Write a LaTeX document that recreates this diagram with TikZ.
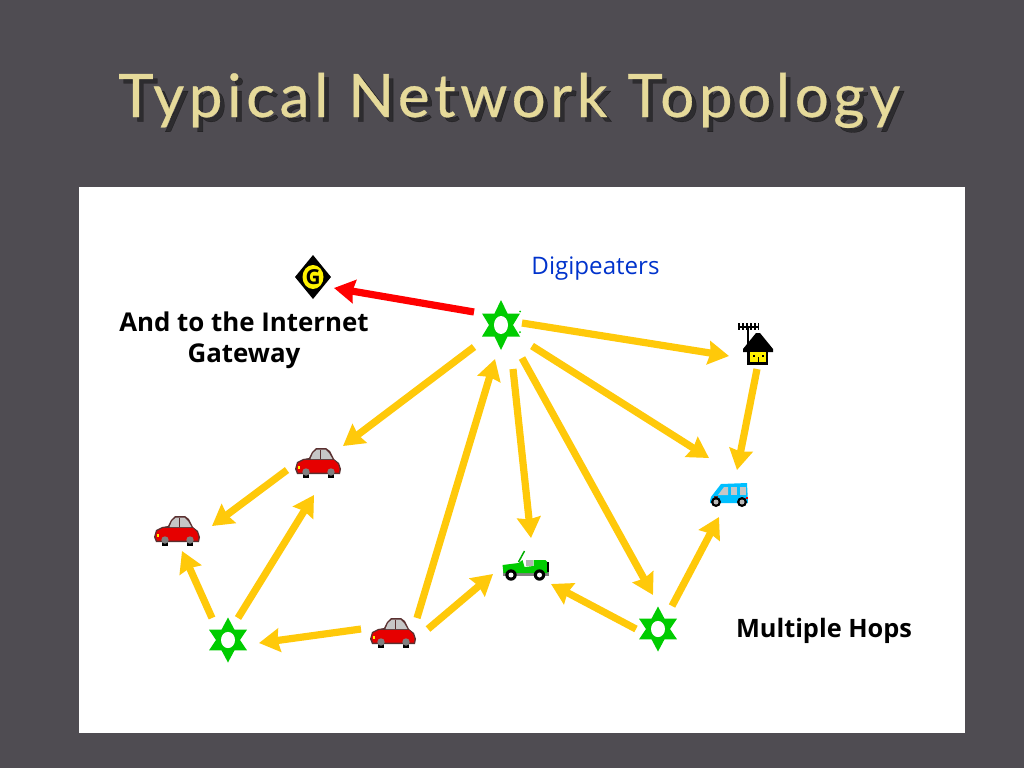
\documentclass[tikz,border=0pt]{standalone}
\usepackage{fontspec}
\usetikzlibrary{arrows.meta,calc}
\setmainfont{Open Sans}
\newfontfamily\titlefont[LetterSpace=7.8,FakeBold=0.5]{Lato}
\definecolor{slide}{HTML}{4F4C52}
\definecolor{flow}{HTML}{FFC90A}
\definecolor{relay}{HTML}{00CC00}
\definecolor{gold}{HTML}{E6DA9A}
\definecolor{carred}{HTML}{E60000}
\definecolor{carline}{HTML}{5A3030}
\definecolor{vanblue}{HTML}{00BFFF}
\tikzset{
  x=0.75pt,y=-0.75pt,
  iconbox/.style={inner sep=0pt,outer sep=0pt,minimum size=2pt},
  link/.style={line width=5.4pt,draw=flow,-{Stealth[length=15.5pt,width=17.5pt,inset=1.5pt]}},
  uplink/.style={line width=5.4pt,draw=red,-{Stealth[length=15.5pt,width=17.5pt,inset=1.5pt]}},
  label/.style={font=\fontsize{19.4pt}{23.2pt}\selectfont\bfseries,align=center,inner sep=0pt},
  titletext/.style={font=\fontsize{45pt}{50pt}\titlefont,inner sep=0pt,anchor=base west},
  pics/relayicon/.style={code={
    \fill[relay] (0,-25)--(6.5,-11.5)--(19,-11.5)--(12,0)--(19,11.5)--(6.5,11.5)--(0,25)--(-6.5,11.5)--(-19,11.5)--(-12,0)--(-19,-11.5)--(-6.5,-11.5)--cycle;
    \fill[white] (0,0) ellipse (7 and 9);
  }},
  pics/gateicon/.style={code={
    \fill[black] (0,-22)--(18,0)--(0,22)--(-18,0)--cycle;
    \fill[yellow] (0,0) ellipse (10.5 and 12);
    \node[inner sep=0pt,font=\fontsize{15.5pt}{15.5pt}\selectfont\bfseries] (gateletter) at (0,0) {G};
  }},
  pics/houseicon/.style={code={
    \draw[black,line width=1.7pt] (-19,-18)--(2,-18);
    \foreach \tx in {-18,-14,-10,-6,-2,1.5} \draw[black,line width=0.9pt] (\tx,-22)--(\tx,-15);
    \draw[black,line width=1.3pt] (-9,-18)--(-9,-1);
    \fill[black] (-1,-12)--(3,-12)--(16,4)--(16,7)--(-14,7)--(-14,4)--cycle;
    \fill[black] (-10,6) rectangle (11,20);
    \fill[yellow] (-7,7) rectangle (9,17);
    \fill[black] (-4,10) rectangle (-2,12);
    \fill[black] (5,10) rectangle (7,12);
    \fill[black] (0.5,12) rectangle (2,17);
  }},
  pics/vanicon/.style={code={
    \fill[vanblue] (-19,7)--(-18,3)--(-8,-10)--(18,-11)--(19,9)--(-19,9)--cycle;
    \fill[gray!45] (-11,1)--(-5,-7)--(-1,-7)--(-1,1)--cycle;
    \fill[gray!45] (2,-7) rectangle (8,1);
    \fill[gray!45] (11,-7) rectangle (17,1);
    \fill[carline] (-15,2) rectangle (-11,4);
    \fill[carred] (17,3) rectangle (19,5);
    \foreach \wx in {-13,13} {\fill[black] (\wx,8) circle (5); \fill[gray!55] (\wx,8) circle (2.5);}
  }},
  pics/caricon/.style={code={
    \fill[black] (-15,9) rectangle (-9,15);
    \fill[black] (10,9) rectangle (16,15);
    \fill[carline] (-23,6)--(-21,-1)--(-15,-4)--(-9,-5)--(-6,-11)--(-2,-15)--(8,-15)--(12,-12)--(16,-4)--(21,0)--(23,6)--(22,11)--(-21,11)--cycle;
    \fill[gray!45] (-7.5,-4)--(-5,-10)--(-1,-13.5)--(7.5,-13.5)--(11,-10)--(14.5,-4)--cycle;
    \fill[carred] (-21.5,5)--(-20,0)--(-14,-3)--(16,-3)--(20,1)--(21.5,6)--(21,9.5)--(-20,9.5)--cycle;
    \draw[carline,line width=0.5pt] (2,-13.5)--(2,-4);
    \fill[yellow] (-20.5,3) rectangle (-18,6);
    \foreach \wx in {-12,13} {\fill[gray] (\wx,9) circle (3.7);}
  }},
  pics/jeepicon/.style={code={
    \draw[relay!85!black,line width=1.1pt] (-7,-3)--(-1,-14);
    \fill[gray] (-23,6) rectangle (23,11);
    \fill[relay] (-23,0)--(-7,-2)--(-3,-5)--(-1,2)--(8,1)--(8,-5)--(20,-5)--(22,-3)--(22,8)--(-22,8)--cycle;
    \fill[gray!60] (0,-5) rectangle (7,1);
    \fill[black] (21,-3) rectangle (23,7);
    \foreach \wx in {-14.5,14} {\fill[black] (\wx,10) circle (5.7); \fill[white] (\wx,10) circle (2.5);}
  }},
}
\begin{document}
\begin{tikzpicture}
\useasboundingbox (0,0) rectangle (1024,768);
\fill[slide] (0,0) rectangle (1024,768);
\fill[white] (79,187) rectangle (965,733);

% title
\node[titletext,text=black,text opacity=0.42] (titleshadow) at (122.5,121.5) {Typical Network Topology};
\node[titletext,text=gold] (title) at (118,117) {Typical Network Topology};

% icons
\node[iconbox] (gate) at (313,277) {};
\node[iconbox] (hubA) at (501,325) {};
\node[iconbox] (hubB) at (658,629) {};
\node[iconbox] (hubC) at (228,640) {};
\node[iconbox] (house) at (757,345) {};
\node[iconbox] (van) at (729,494) {};
\node[iconbox] (carA) at (318,463) {};
\node[iconbox] (carB) at (177,531) {};
\node[iconbox] (carC) at (393,633) {};
\node[iconbox] (jeep) at (525.5,565) {};

\pic at (gate) {gateicon};
\pic at (hubA) {relayicon};
\pic[yscale=0.9] at (hubB) {relayicon};
\pic[yscale=0.9] at (hubC) {relayicon};
\pic at (house) {houseicon};
\pic at (van) {vanicon};
\pic at (carA) {caricon};
\pic at (carB) {caricon};
\pic at (carC) {caricon};
\pic at (jeep) {jeepicon};
\fill[relay] (520,311.5) circle (1) (520,332) circle (1);

% connectors
\draw[uplink] ($(hubA)+(-27,-13)$) -- ($(gate)+(21,11)$);
\draw[link] ($(hubA)+(21,-2)$) -- ($(house)+(-28,11)$);
\draw[link] ($(house)+(0,24)$) -- ($(van)+(8,-24)$);
\draw[link] ($(hubA)+(31,21)$) -- ($(van)+(-20,-36)$);
\draw[link] ($(hubA)+(-27,22)$) -- ($(carA)+(25,-17)$);
\draw[link] ($(carA)+(-31,7)$) -- ($(carB)+(35,-5)$);
\draw[link] ($(hubC)+(-16,-22)$) -- ($(carB)+(5,20)$);
\draw[link] ($(hubC)+(10,-22)$) -- ($(carA)+(-4,32)$);
\draw[link] ($(carC)+(-32,-4)$) -- ($(hubC)+(31,3)$);
\draw[link] ($(carC)+(24,-15)$) -- ($(hubA)+(-6,34)$);
\draw[link] ($(carC)+(35,-4)$) -- ($(jeep)+(-32.5,9)$);
\draw[link] ($(hubA)+(12,44)$) -- ($(jeep)+(5.5,-27)$);
\draw[link] ($(hubA)+(21,33)$) -- ($(hubB)+(-5,-34)$);
\draw[link] ($(hubB)+(-22,0)$) -- ($(jeep)+(25.5,19)$);
\draw[link] ($(hubB)+(14,-23)$) -- ($(van)+(-10,23)$);

% labels
\node[font=\fontsize{18.1pt}{22pt}\selectfont,text={rgb,255:red,0;green,51;blue,204},inner sep=0pt] (digi) at (595.5,269) {Digipeaters};
\node[label] (gatelabel) at (244,340) {And to the Internet\\Gateway};
\node[font=\fontsize{19pt}{23pt}\selectfont\bfseries,inner sep=0pt] (hops) at (824,631) {Multiple Hops};
\end{tikzpicture}
\end{document}
